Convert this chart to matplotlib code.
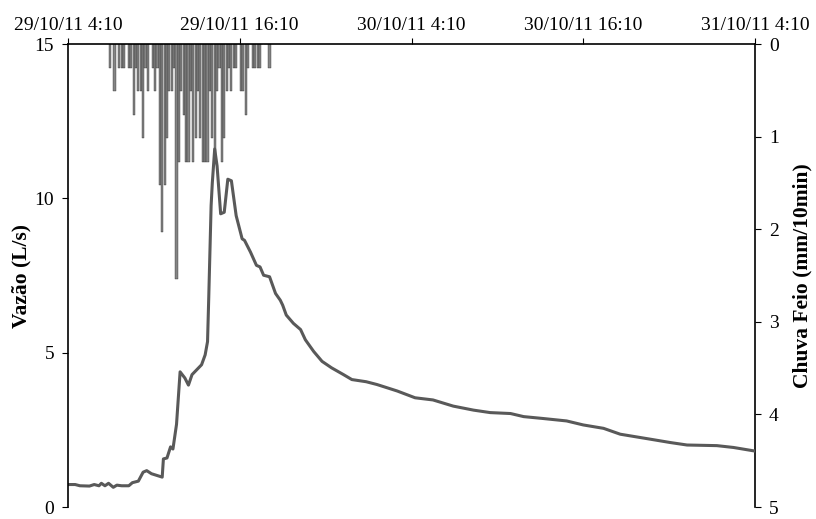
import pandas as pd
import matplotlib
matplotlib.use("Agg")
import matplotlib.pyplot as plt
import matplotlib.dates as mdates
from matplotlib.ticker import FuncFormatter

plt.rcParams['font.family'] = ['Liberation Serif', 'DejaVu Serif']

# vazão (L/s)
flow_times = [
    "29/10/11 04:10", "29/10/11 04:40", "29/10/11 05:00", "29/10/11 05:40", "29/10/11 06:00",
    "29/10/11 06:20", "29/10/11 06:30", "29/10/11 06:45", "29/10/11 07:00", "29/10/11 07:20",
    "29/10/11 07:35", "29/10/11 07:55", "29/10/11 08:25", "29/10/11 08:40", "29/10/11 09:05",
    "29/10/11 09:25", "29/10/11 09:40", "29/10/11 10:00", "29/10/11 10:45", "29/10/11 10:50",
    "29/10/11 11:05", "29/10/11 11:20", "29/10/11 11:30", "29/10/11 11:45", "29/10/11 12:00",
    "29/10/11 12:20", "29/10/11 12:35", "29/10/11 12:50", "29/10/11 13:10", "29/10/11 13:30",
    "29/10/11 13:45", "29/10/11 13:55", "29/10/11 14:00", "29/10/11 14:10", "29/10/11 14:15",
    "29/10/11 14:25", "29/10/11 14:35", "29/10/11 14:50", "29/10/11 15:05", "29/10/11 15:20",
    "29/10/11 15:35", "29/10/11 15:55", "29/10/11 16:20", "29/10/11 16:30", "29/10/11 16:55",
    "29/10/11 17:20", "29/10/11 17:35", "29/10/11 17:50", "29/10/11 18:15", "29/10/11 18:40",
    "29/10/11 19:00", "29/10/11 19:10", "29/10/11 19:25", "29/10/11 19:55", "29/10/11 20:25",
    "29/10/11 20:45", "29/10/11 21:20", "29/10/11 21:55", "29/10/11 22:35", "29/10/11 23:25",
    "30/10/11 00:00", "30/10/11 01:00", "30/10/11 01:45", "30/10/11 03:10", "30/10/11 04:25",
    "30/10/11 05:40", "30/10/11 07:05", "30/10/11 08:30", "30/10/11 09:40", "30/10/11 11:05",
    "30/10/11 12:00", "30/10/11 13:20", "30/10/11 15:00", "30/10/11 16:10", "30/10/11 17:35",
    "30/10/11 18:45", "30/10/11 20:50", "30/10/11 22:15", "30/10/11 23:25", "31/10/11 01:30",
    "31/10/11 02:40", "31/10/11 04:05",
]
flow = [
    0.73, 0.73, 0.69, 0.68, 0.73,
    0.69, 0.77, 0.69, 0.77, 0.64,
    0.71, 0.69, 0.69, 0.79, 0.84,
    1.13, 1.18, 1.08, 0.97, 1.56,
    1.59, 1.95, 1.88, 2.68, 4.38,
    4.18, 3.95, 4.29, 4.45, 4.61,
    4.93, 5.36, 6.76, 9.76, 10.5,
    11.6, 11.05, 9.5, 9.55, 10.62,
    10.57, 9.44, 8.69, 8.64, 8.26,
    7.83, 7.78, 7.51, 7.46, 6.92,
    6.70, 6.54, 6.22, 5.95, 5.75,
    5.42, 5.04, 4.72, 4.51, 4.29,
    4.13, 4.06, 3.97, 3.76, 3.54,
    3.47, 3.27, 3.14, 3.06, 3.03,
    2.93, 2.87, 2.79, 2.66, 2.55,
    2.36, 2.20, 2.09, 2.01, 1.99,
    1.93, 1.82,
]

# chuva (mm/10min), one value per 10 min from 07:05
rain_start = "29/10/11 07:05"
rain = [
    0.254, 0, 0.508, 0, 0.254, 0.254, 0.254, 0, 0.254, 0.254,
    0.762, 0.254, 0.508, 0.508, 1.016, 0.254, 0.508, 0, 0.254, 0.508,
    0.254, 1.524, 2.032, 1.524, 1.016, 0.508, 0.508, 0.254, 2.54, 1.27,
    0.508, 0.762, 1.27, 1.27, 0.508, 1.27, 1.016, 0.508, 1.016, 1.27,
    1.27, 1.27, 0.508, 1.016, 1.27, 0.508, 0.254, 1.27, 1.016, 0.508,
    0.254, 0.508, 0.254, 0.254, 0, 0.508, 0.508, 0.762, 0.254, 0,
    0.254, 0.254, 0.254, 0.254, 0, 0, 0, 0.254,
]

fmt = "%d/%m/%y %H:%M"
t_flow = pd.to_datetime(flow_times, format=fmt)
t_rain = pd.date_range(pd.to_datetime(rain_start, format=fmt), periods=len(rain), freq="10min")

fig = plt.figure(figsize=(8.16, 5.19), dpi=100)
ax = fig.add_axes([0.0833, 0.023, 0.8420, 0.8922])
ax2 = ax.twinx()

ax2.bar(t_rain, rain, width=pd.Timedelta(minutes=9), color="#858585",
        edgecolor="#202020", linewidth=0.25)
ax2.set_ylim(5, 0)
ax2.set_yticks([0, 1, 2, 3, 4, 5])

ax.plot(t_flow, flow, color="#595959", linewidth=2.2)
ax.set_ylim(0, 15)
ax.set_yticks([0, 5, 10, 15])
ax.set_zorder(ax2.get_zorder() + 1)
ax.patch.set_visible(False)

x0 = pd.to_datetime("29/10/11 04:10", format=fmt)
x1 = pd.to_datetime("31/10/11 04:10", format=fmt)
ax.set_xlim(x0, x1)
ax.set_xticks(pd.date_range(x0, x1, freq="12h"))
ax.xaxis.tick_top()
ax.xaxis.set_major_formatter(FuncFormatter(
    lambda v, pos: (lambda d: f"{d:%d/%m/%y} {d.hour}:{d:%M}")(mdates.num2date(v))))

for a in (ax, ax2):
    a.spines["bottom"].set_visible(False)
    for s in a.spines.values():
        s.set_linewidth(1.2)
    a.tick_params(labelsize=14, length=4, width=0.8, direction="out", pad=6)
ax.tick_params(axis="x", pad=3)
ax.spines["right"].set_visible(False)
ax2.spines["left"].set_visible(False)
ax2.spines["top"].set_visible(False)

ax.set_ylabel("Vazão (L/s)", fontsize=15.5, fontweight="bold", labelpad=2)
ax2.set_ylabel("Chuva Feio (mm/10min)", fontsize=15.5, fontweight="bold", labelpad=10)

fig.savefig("out.png", dpi=100)
